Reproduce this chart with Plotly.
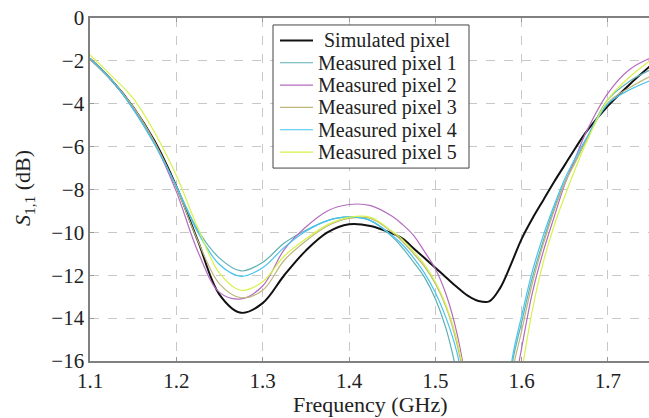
import plotly.graph_objects as go

freq = [1.1, 1.125, 1.15, 1.175, 1.2, 1.225, 1.25, 1.275, 1.3, 1.325, 1.35, 1.375, 1.4, 1.425,
        1.45, 1.4625, 1.475, 1.4875, 1.5, 1.5125, 1.525, 1.5375, 1.55, 1.5625, 1.575, 1.5875,
        1.6, 1.6125, 1.625, 1.6375, 1.65, 1.6625, 1.675, 1.7, 1.725, 1.75]

simulated = [-1.9, -2.9, -4.15, -5.75, -7.85, -10.4, -12.9, -13.75, -13.3, -12.0, -10.85, -10.0, -9.62, -9.7,
             -10.05, -10.3, -10.75, -11.2, -11.65, -12.1, -12.55, -12.95, -13.2, -13.22, -12.6, -11.5,
             -10.3, -9.35, -8.5, -7.65, -6.85, -6.05, -5.3, -4.1, -3.1, -2.2]

measured_1 = [-1.9, -2.9, -4.25, -5.9, -7.85, -9.9, -11.2, -11.8, -11.4, -10.5, -9.9, -9.45, -9.28, -9.45,
              -10.2, -10.75, -11.4, -12.1, -13.1, -14.5, -16.6, -19.5, -23.5, -28.0, -24.0, -16.5,
              -14.2, -12.1, -10.4, -8.9, -7.65, -6.65, -5.65, -3.8, -2.95, -2.4]

measured_2 = [-1.9, -2.9, -4.2, -5.85, -8.1, -10.9, -12.8, -13.1, -12.5, -10.8, -9.75, -9.0, -8.7, -8.75,
              -9.25, -9.65, -10.15, -10.9, -11.7, -12.9, -14.7, -17.5, -21.5, -26.0, -27.0, -18.3,
              -15.4, -12.8, -10.9, -9.3, -7.75, -6.5, -5.3, -3.5, -2.4, -1.85]

measured_3 = [-1.9, -2.9, -4.15, -5.8, -7.9, -10.4, -12.4, -13.05, -12.7, -11.3, -10.4, -9.7, -9.35, -9.35,
              -10.0, -10.45, -11.0, -11.6, -12.4, -13.5, -15.2, -17.8, -21.5, -26.0, -27.0, -17.0,
              -14.6, -12.35, -10.55, -9.0, -7.7, -6.7, -5.7, -3.95, -3.25, -2.7]

measured_4 = [-1.9, -2.9, -4.25, -5.9, -7.85, -10.0, -11.5, -12.05, -11.65, -10.7, -9.95, -9.45, -9.28, -9.45,
              -10.15, -10.6, -11.2, -11.9, -12.8, -14.0, -15.6, -18.3, -22.0, -27.0, -25.0, -16.3,
              -13.9, -11.8, -10.15, -8.75, -7.5, -6.5, -5.6, -4.0, -3.35, -2.9]

measured_5 = [-1.72, -2.7, -3.75, -5.35, -7.35, -9.8, -11.9, -12.7, -12.3, -11.1, -10.3, -9.65, -9.3, -9.3,
              -9.95, -10.35, -10.9, -11.5, -12.3, -13.4, -15.0, -17.6, -21.5, -26.0, -28.0, -19.5,
              -16.5, -13.6, -11.4, -9.7, -8.3, -7.0, -5.8, -3.8, -2.75, -1.95]

series_names = ["Simulated pixel", "Measured pixel 1", "Measured pixel 2",
                "Measured pixel 3", "Measured pixel 4", "Measured pixel 5"]
series_values = [simulated, measured_1, measured_2, measured_3, measured_4, measured_5]
series_colors = ["#111111", "#5DAFB3", "#B56BC0", "#BDB77C", "#45C4F0", "#D6F24A"]
series_widths = [2.0, 1.2, 1.2, 1.2, 1.2, 1.2]

y_ticks = [0, -2, -4, -6, -8, -10, -12, -14, -16]
x_ticks = [1.1, 1.2, 1.3, 1.4, 1.5, 1.6, 1.7]

font_family = "Liberation Serif"
text_color = "#222222"

FIG_W, FIG_H = 649, 418
# plot area geometry in window pixels
L, R, T, B = 90, 649, 17.5, 361.5
W, H = R - L, B - T


def px_x(px):
    return (px - L) / W


def px_y(py):
    return (B - py) / H


fig = go.Figure()
for name, vals, col, w in zip(series_names, series_values, series_colors, series_widths):
    fig.add_trace(go.Scatter(x=freq, y=vals, mode="lines", name=name, showlegend=False,
                             line=dict(color=col, width=w, shape="spline", smoothing=1.0)))

# legend box drawn by hand (pgfplots-like)
shapes = [dict(type="rect", xref="paper", yref="paper",
               x0=px_x(273), x1=px_x(469), y0=px_y(168), y1=px_y(24.5),
               line=dict(color="#444444", width=1), fillcolor="white", layer="above")]
annotations = []
row_y = [40, 62.4, 84.8, 107.2, 129.6, 152]
for name, col, w, ry in zip(series_names, series_colors, series_widths, row_y):
    shapes.append(dict(type="line", xref="paper", yref="paper",
                       x0=px_x(280), x1=px_x(313), y0=px_y(ry), y1=px_y(ry),
                       line=dict(color=col, width=w), layer="above"))
    annotations.append(dict(text=name, xref="paper", yref="paper", x=px_x(387.5), y=px_y(ry + 0.5),
                            xanchor="center", yanchor="middle", showarrow=False,
                            font=dict(family=font_family, size=20, color=text_color)))

annotations.append(dict(text="Frequency (GHz)", xref="paper", yref="paper",
                        x=px_x(370), y=px_y(405), xanchor="center", yanchor="middle",
                        showarrow=False, font=dict(family=font_family, size=22, color=text_color)))
annotations.append(dict(text="<i>S</i><sub>1,1</sub> (dB)", xref="paper", yref="paper",
                        x=px_x(24), y=px_y(188), xanchor="center", yanchor="middle", textangle=-90,
                        showarrow=False, font=dict(family=font_family, size=22, color=text_color)))

fig.update_layout(
    width=FIG_W, height=FIG_H,
    margin=dict(l=L, r=FIG_W - R, t=T, b=FIG_H - B, autoexpand=False),
    paper_bgcolor="white", plot_bgcolor="white",
    font=dict(family=font_family, size=21, color=text_color),
    showlegend=False,
    shapes=shapes, annotations=annotations,
)
fig.update_xaxes(range=[1.1, 1.7475], tickvals=x_ticks, ticktext=[f"{v:.1f}" for v in x_ticks],
                 showgrid=True, gridcolor="#c8c8c8", griddash="dash", gridwidth=1,
                 showline=True, linecolor="#808080", linewidth=1.6, mirror="ticks",
                 ticks="inside", ticklen=4, tickcolor="#999999", automargin=False,
                 ticklabeloverflow="allow", zeroline=False)
fig.update_yaxes(range=[-16, 0], tickvals=y_ticks,
                 showgrid=True, gridcolor="#c8c8c8", griddash="dash", gridwidth=1,
                 showline=True, linecolor="#808080", linewidth=1.6,
                 ticks="inside", ticklen=4, tickcolor="#999999", automargin=False,
                 ticklabeloverflow="allow", zeroline=False)

# remove the default 8px page margin so the figure fills the window exactly
fig.write_html("out.html",
               config={"displayModeBar": False, "staticPlot": True},
               post_script="document.body.style.margin='0';document.body.style.overflow='hidden';")
